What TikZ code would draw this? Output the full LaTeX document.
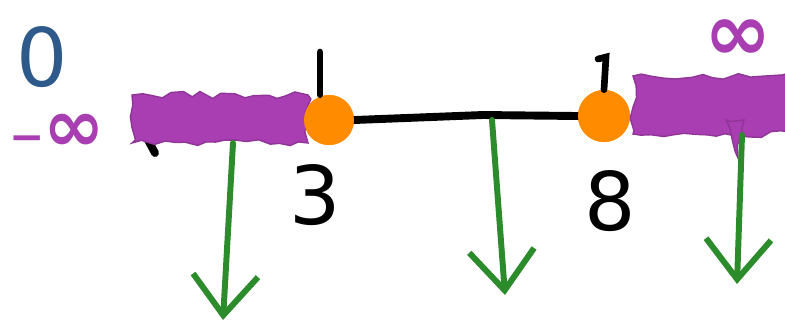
\documentclass[tikz,border=0pt]{standalone}
\usepackage{fontspec}
\usepackage{xcolor}
\setmainfont{DejaVu Sans}
\usetikzlibrary{arrows.meta,decorations.pathmorphing}

\definecolor{bandpurple}{RGB}{168,62,178}
\definecolor{dotorange}{RGB}{255,140,0}
\definecolor{arrowgreen}{RGB}{44,140,44}
\definecolor{zeroblue}{RGB}{45,90,138}

\tikzset{
  band/.style={fill=bandpurple,draw=bandpurple!85!black,line width=0.8pt,
    decorate,decoration={random steps,segment length=6pt,amplitude=2pt}},
  endpt/.style={circle,fill=dotorange,inner sep=0pt,minimum size=1cm},
  axisline/.style={line width=4.5pt,line cap=round},
  tickline/.style={line width=3.8pt,line cap=round},
  down/.style={arrowgreen,line width=3.4pt,line cap=round,
    -{Straight Barb[length=8mm,width=13mm,line width=3.4pt]}},
  bigtext/.style={font=\fontsize{46}{46}\selectfont,inner sep=0pt},
  inftext/.style={text=bandpurple,inner sep=0pt,font=\bfseries}
}

\begin{document}
\begin{tikzpicture}[x=0.02cm,y=-0.02cm]
\useasboundingbox (0,0) rectangle (785,326);
\clip (0,0) rectangle (785,326);
\pgfmathsetseed{7}

% labels on the left
\node[bigtext,text=zeroblue] (zero) at (42,57) {0};
\node[inftext] (minf) at (57,133)
  {{\fontsize{24}{24}\selectfont −}\kern-1pt{\fontsize{42}{42}\selectfont ∞}};
\node[inftext,font=\bfseries\fontsize{46}{46}\selectfont] (pinf) at (738,40) {∞};

% axis
\draw[axisline] (148,140) -- (155,153);
\node[endpt] (d3) at (329,120) {};
\node[endpt,minimum size=1.04cm] (d8) at (604,116) {};
\coordinate (mid) at (483,115);
\draw[axisline] (d3.east) -- (mid) -- (d8.west);

% shaded rays
\fill[band] (132,95) rectangle (308,143);
\fill[band] (633,76) rectangle (800,134);
\fill[band] (726,120) -- (738,158) -- (744,120) -- cycle;
\node[endpt] at (d3) {};
\node[endpt,minimum size=1.04cm] at (d8) {};

% ticks
\draw[tickline] (320,52) -- (d3.north -| 320,0);
\draw[tickline] (598,59) -- (606,57) -- (d8.north);

% values
\node[bigtext] (l3) at (315,195) {3};
\node[bigtext] (l8) at (610,201) {8};

% test points
\coordinate (t1) at (233,143);
\coordinate (h1) at (223,320);
\coordinate (t2) at (492,120);
\coordinate (h2) at (505,295);
\coordinate (t3) at (742,135);
\coordinate (h3) at (737,284);
\draw[down] (t1) -- (h1);
\draw[down] (t2) -- (h2);
\draw[down] (t3) -- (h3);

\end{tikzpicture}
\end{document}
